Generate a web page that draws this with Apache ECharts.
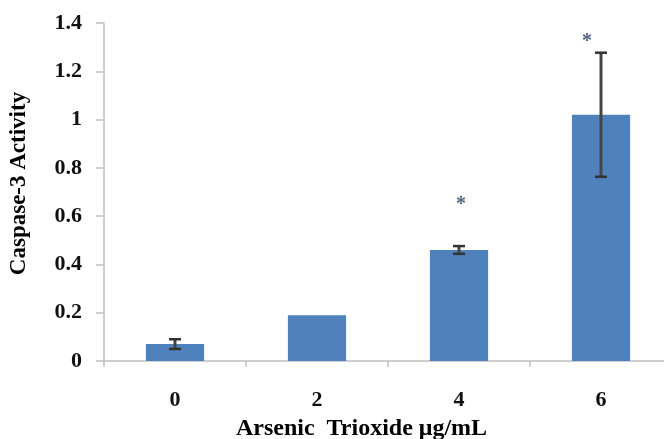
<!DOCTYPE html>
<html>
<head>
<meta charset="utf-8">
<script src="https://cdn.jsdelivr.net/npm/echarts@6/dist/echarts.min.js"></script>
<style>html,body{margin:0;padding:0;background:#fff}#c{width:664px;height:439px}</style>
</head>
<body>
<div id="c"></div>
<script>
var categories = ['0', '2', '4', '6'];
var values = [0.07, 0.19, 0.46, 1.02];
var errors = [0.02, 0, 0.016, 0.257];
var starValues = [null, null, 0.645, 1.32];
var yTicks = [0, 0.2, 0.4, 0.6, 0.8, 1, 1.2, 1.4];

var chart = echarts.init(document.getElementById('c'));
var font = '"Liberation Serif", "Times New Roman", serif';
chart.setOption({
  animation: false,
  grid: {left: 104, right: -8, top: 23, bottom: 78, outerBoundsMode: 'none', containLabel: false},
  xAxis: {
    type: 'category',
    data: categories,
    name: 'Arsenic  Trioxide μg/mL',
    nameLocation: 'middle',
    nameGap: 56,
    nameTextStyle: {fontFamily: font, fontWeight: 'bold', fontSize: 24, color: '#000', padding: [0, 53, 0, 0]},
    axisLine: {lineStyle: {color: '#c0c0c0', width: 1.5}},
    axisTick: {show: true, length: 6, lineStyle: {color: '#c0c0c0', width: 1.5}},
    axisLabel: {fontFamily: font, fontWeight: 'bold', fontSize: 22, color: '#111', margin: 28}
  },
  yAxis: {
    type: 'value',
    min: 0, max: 1.4, interval: 0.2,
    name: 'Caspase-3 Activity',
    nameLocation: 'middle',
    nameGap: 73,
    nameTextStyle: {fontFamily: font, fontWeight: 'bold', fontSize: 23, color: '#000', padding: [0, 0, 0, 17]},
    axisLine: {show: true, lineStyle: {color: '#c0c0c0', width: 1.5}},
    axisTick: {show: true, length: 8, lineStyle: {color: '#c0c0c0', width: 1.5}},
    splitLine: {show: false},
    axisLabel: {fontFamily: font, fontWeight: 'bold', fontSize: 22, color: '#111', margin: 22,
      formatter: function (v) { var t = yTicks.find(function (t) { return Math.abs(t - v) < 1e-9; }); return String(t === undefined ? v : t); }}
  },
  series: [
    {
      type: 'bar',
      data: values,
      barWidth: '41%',
      itemStyle: {color: '#4F81BD'}
    },
    {
      type: 'custom',
      data: values.map(function (v, i) { return [i, v, errors[i]]; }),
      z: 10,
      renderItem: function (params, api) {
        var i = api.value(0), v = api.value(1), e = api.value(2);
        if (!e) return;
        var hi = api.coord([i, v + e]);
        var lo = api.coord([i, v - e]);
        var w = 6;
        var style = {stroke: '#333', lineWidth: 2.5};
        return {
          type: 'group',
          children: [
            {type: 'line', shape: {x1: hi[0], y1: hi[1], x2: lo[0], y2: lo[1]}, style: {stroke: '#444', lineWidth: 3}},
            {type: 'line', shape: {x1: hi[0] - w, y1: hi[1], x2: hi[0] + w, y2: hi[1]}, style: style},
            {type: 'line', shape: {x1: lo[0] - w, y1: lo[1], x2: lo[0] + w, y2: lo[1]}, style: style}
          ]
        };
      }
    },
    {
      type: 'scatter',
      data: starValues.map(function (v, i) {
        return v == null ? [i, null] : {value: [i, v], label: {offset: i === 3 ? [-14, 0] : [2, 0]}};
      }),
      symbolSize: 1,
      itemStyle: {color: 'rgba(0,0,0,0)'},
      label: {show: true, position: 'inside', formatter: '*', fontFamily: font, fontWeight: 'bold', fontSize: 20, color: '#1F3864'}
    }
  ]
});
</script>
</body>
</html>
